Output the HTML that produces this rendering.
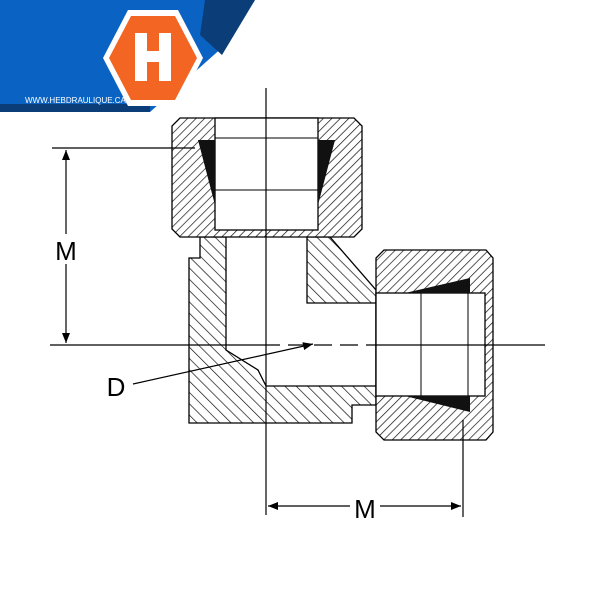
<!DOCTYPE html>
<html><head><style>html,body{margin:0;padding:0;background:#fff}svg{display:block}</style></head>
<body>
<svg width="600" height="600" viewBox="0 0 600 600" xmlns="http://www.w3.org/2000/svg">
<defs>
<pattern id="h1" width="6" height="6" patternUnits="userSpaceOnUse" patternTransform="rotate(45)"><rect width="6" height="6" fill="#fff"/><line x1="0" y1="0" x2="0" y2="6" stroke="#111" stroke-width="1.4"/></pattern>
<pattern id="h2" width="8" height="8" patternUnits="userSpaceOnUse" patternTransform="rotate(-45)"><rect width="8" height="8" fill="#fff"/><line x1="0" y1="0" x2="0" y2="8" stroke="#111" stroke-width="1.4"/></pattern>
<marker id="ar" markerWidth="10" markerHeight="8" refX="10" refY="4" orient="auto-start-reverse" markerUnits="userSpaceOnUse"><path d="M0,0 L10,4 L0,8 z" fill="#000"/></marker>
</defs>
<!-- logo -->
<polygon points="0,0 255,0 225,45 150,112 0,112" fill="#0a63c2"/>
<polygon points="205,0 255,0 222,55 200,35" fill="#0b3d78"/>
<rect x="0" y="104" width="150" height="8" fill="#0b3d78"/>
<polygon points="128,10 178,10 203,58 178,106 128,106 103,58" fill="#fff"/>
<polygon points="131,16 175,16 197,58 175,100 131,100 109,58" fill="#f26522"/>
<path d="M135,33 h12 v18 h12 v-18 h12 v48 h-12 v-19 h-12 v19 h-12 z" fill="#fff"/>
<text x="25" y="103" font-family="Liberation Sans, sans-serif" font-size="8" fill="#fff">WWW.HEBDRAULIQUE.CA</text>
<!-- body -->
<polygon points="189,258 200,258 200,237 330,237 376,290 376,405 352,405 352,423 189,423" fill="url(#h2)" stroke="#000" stroke-width="1.3"/>
<polygon points="226,235 307,235 307,303 376,303 376,386 266,386 258,370 226,350" fill="#fff" stroke="#000" stroke-width="1.3"/>
<!-- top nut -->
<polygon points="180,118 354,118 362,126 362,229 354,237 180,237 172,229 172,126" fill="url(#h1)" stroke="#000" stroke-width="1.3"/>
<rect x="215" y="118" width="103" height="112" fill="#fff" stroke="#000" stroke-width="1.3"/>
<line x1="215" y1="138" x2="318" y2="138" stroke="#000"/>
<line x1="215" y1="190" x2="318" y2="190" stroke="#000"/>
<polygon points="198,140 215,140 215,205" fill="#111"/>
<polygon points="335,140 318,140 318,205" fill="#111"/>
<!-- right nut -->
<polygon points="384,250 486,250 493,258 493,432 486,440 384,440 376,432 376,258" fill="url(#h1)" stroke="#000" stroke-width="1.3"/>
<rect x="376" y="293" width="109" height="103" fill="#fff" stroke="#000" stroke-width="1.3"/>
<line x1="421" y1="293" x2="421" y2="396" stroke="#000"/>
<line x1="468" y1="293" x2="468" y2="396" stroke="#000"/>
<polygon points="405,293 470,278 470,293" fill="#111"/>
<polygon points="405,396 470,412 470,396" fill="#111"/>
<!-- center lines -->
<line x1="266" y1="88" x2="266" y2="515" stroke="#000" stroke-width="1.2"/>
<line x1="50" y1="345" x2="545" y2="345" stroke="#000" stroke-width="1.2"/>
<line x1="266" y1="345" x2="376" y2="345" stroke="#fff" stroke-width="2" stroke-dasharray="8,18" stroke-dashoffset="-14"/>
<!-- dimensions -->
<line x1="52" y1="148" x2="195" y2="148" stroke="#000" stroke-width="1.2"/>
<line x1="66" y1="150" x2="66" y2="343" stroke="#000" stroke-width="1.2" marker-start="url(#ar)" marker-end="url(#ar)"/>
<rect x="54" y="234" width="24" height="30" fill="#fff"/>
<text x="66" y="260" font-family="Liberation Sans, sans-serif" font-size="26" text-anchor="middle">M</text>
<line x1="463" y1="420" x2="463" y2="517" stroke="#000" stroke-width="1.2"/>
<line x1="268" y1="506" x2="461" y2="506" stroke="#000" stroke-width="1.2" marker-start="url(#ar)" marker-end="url(#ar)"/>
<rect x="350" y="494" width="30" height="26" fill="#fff"/>
<text x="365" y="518" font-family="Liberation Sans, sans-serif" font-size="26" text-anchor="middle">M</text>
<text x="116" y="396" font-family="Liberation Sans, sans-serif" font-size="26" text-anchor="middle">D</text>
<line x1="133" y1="384" x2="313" y2="344" stroke="#000" stroke-width="1.2" marker-end="url(#ar)"/>
</svg>
</body></html>
